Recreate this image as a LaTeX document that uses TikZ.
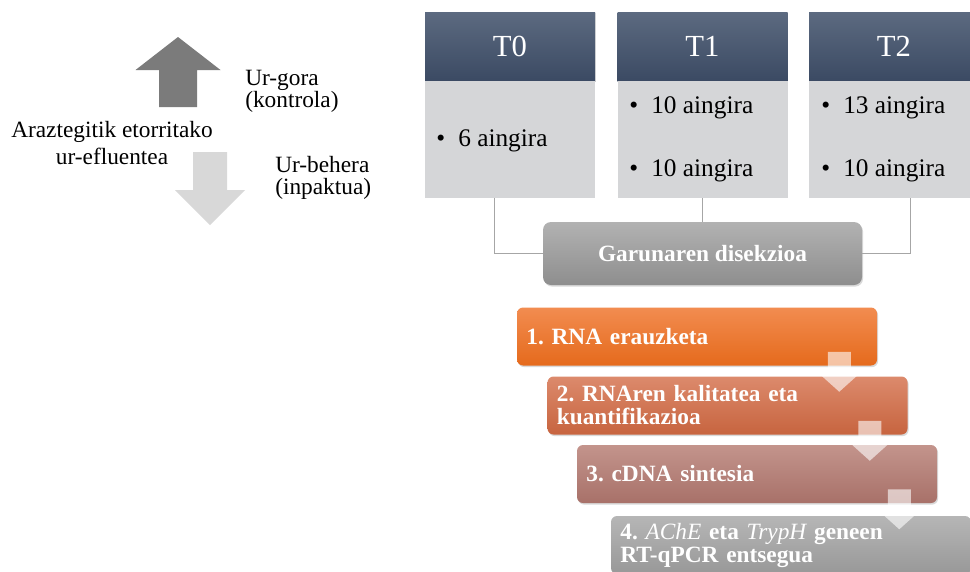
\documentclass[tikz,border=0pt]{standalone}
\usepackage{fontspec}
\setmainfont{Liberation Serif}
\usepackage{xcolor}
\usetikzlibrary{positioning,calc,shadows}
\frenchspacing

\definecolor{headtop}{RGB}{92,106,128}
\definecolor{headbot}{RGB}{59,74,99}
\definecolor{bodygray}{RGB}{213,214,216}
\definecolor{linegray}{RGB}{166,166,166}
\definecolor{garuntop}{RGB}{178,178,178}
\definecolor{garunbot}{RGB}{142,142,142}
\definecolor{onetop}{RGB}{242,140,80}
\definecolor{onebot}{RGB}{229,106,28}
\definecolor{twotop}{RGB}{220,138,108}
\definecolor{twobot}{RGB}{199,100,63}
\definecolor{threetop}{RGB}{195,148,140}
\definecolor{threebot}{RGB}{168,113,105}
\definecolor{fourtop}{RGB}{182,182,182}
\definecolor{fourbot}{RGB}{152,152,152}
\definecolor{updark}{RGB}{123,123,123}
\definecolor{downlight}{RGB}{216,216,216}

\tikzset{
  headbox/.style={minimum width=127.5pt, minimum height=51.75pt, inner sep=0pt,
    top color=headtop, bottom color=headbot, text=white, font=\fontsize{23}{27}\selectfont,
    drop shadow={shadow xshift=0.6pt, shadow yshift=-0.8pt, opacity=0.25}},
  bodybox/.style={minimum width=127.5pt, minimum height=87.75pt, inner sep=0pt, fill=bodygray},
  eeltext/.style={anchor=west, inner sep=0pt, font=\fontsize{19}{22}\selectfont},
  sidetext/.style={inner sep=0pt, font=\fontsize{17.5}{16.5}\selectfont},
  stepbox/.style 2 args={rounded corners=4.5pt, minimum width=270pt, minimum height=43.5pt,
    text width=256pt, inner xsep=7pt, align=left, text=white, top color=#1, bottom color=#2,
    font=\fontsize{17.5}{17.25}\selectfont\bfseries,
    drop shadow={shadow xshift=0.8pt, shadow yshift=-1.2pt, opacity=0.3}},
  link/.style={draw=linegray, line width=0.75pt},
  steparrow/.pic={\fill[white, fill opacity=0.6] (-11.5,0) -- (11.5,0) -- (11.5,22) -- (20,22)
    -- (0,40) -- (-20,22) -- (-11.5,22) -- cycle;},
}

\begin{document}
\begin{tikzpicture}[x=0.75pt, y=-0.75pt]
    \useasboundingbox (0,0) rectangle (970,571);
    \clip (0,0) rectangle (970,571);

    % Upstream / downstream
    \fill[updark] (178,37) -- (220.5,70) -- (197,70) -- (197,107) -- (159,107) -- (159,70) -- (135.5,70) -- cycle;
    \fill[downlight] (193,152) -- (227,152) -- (227,190) -- (245,190) -- (210,225) -- (175,190) -- (193,190) -- cycle;
    \node[sidetext, align=center, font=\fontsize{17.5}{20.25}\selectfont] (efluent) at (112,143) {Araztegitik etorritako\\ur-efluentea};
    \node[sidetext, align=left, anchor=west] (upstream) at (245,91) {Ur-gora\\(kontrola)};
    \node[sidetext, align=left, anchor=west] (downstream) at (275,178) {Ur-behera\\(inpaktua)};

    % Sampling times
    \node[headbox] (t0head) at (510,46.5) {T0};
    \node[headbox] (t1head) at (702.5,46.5) {T1};
    \node[headbox] (t2head) at (894,46.5) {T2};
    \node[bodybox] (t0body) at (510,139.5) {};
    \node[bodybox] (t1body) at (702.5,139.5) {};
    \node[bodybox] (t2body) at (894,139.5) {};
    \node[eeltext] (t0a) at (436,141) {\makebox[16.5pt][l]{\textbullet}6 aingira};
    \node[eeltext] (t1a) at (629,108) {\makebox[16.5pt][l]{\textbullet}10 aingira};
    \node[eeltext] (t1b) at (629,171) {\makebox[16.5pt][l]{\textbullet}10 aingira};
    \node[eeltext] (t2a) at (821,108) {\makebox[16.5pt][l]{\textbullet}13 aingira};
    \node[eeltext] (t2b) at (821,171) {\makebox[16.5pt][l]{\textbullet}10 aingira};

    % Dissection
    \node[rounded corners=6pt, minimum width=239.25pt, minimum height=47.25pt, top color=garuntop, bottom color=garunbot,
      text=white, font=\fontsize{17.5}{20}\selectfont\bfseries,
      drop shadow={shadow xshift=0.8pt, shadow yshift=-1.2pt, opacity=0.3}] (garun) at (702.5,253.5) {Garunaren disekzioa};
    \draw[link] ([xshift=-12pt]t0body.south) |- (garun.west);
    \draw[link] (t1body.south) -- (garun.north);
    \draw[link] ([xshift=12pt]t2body.south) |- (garun.east);

    % Lab steps
    \node[stepbox={onetop}{onebot}] (s1) at (697,336.5) {1. RNA erauzketa};
    \node[stepbox={twotop}{twobot}] (s2) at (727.5,405.5) {2. RNAren kalitatea eta\\kuantifikazioa};
    \node[stepbox={threetop}{threebot}] (s3) at (757,474) {3. cDNA sintesia};
    \node[stepbox={fourtop}{fourbot}] (s4) at (791,545) {4. {\mdseries\itshape AChE} eta {\mdseries\itshape TrypH} geneen\\RT-qPCR entsegua};
    \pic at ([shift={(-38,-14)}]s1.south east) {steparrow};
    \pic at ([shift={(-38,-14)}]s2.south east) {steparrow};
    \pic at ([shift={(-38,-14)}]s3.south east) {steparrow};
\end{tikzpicture}
\end{document}
